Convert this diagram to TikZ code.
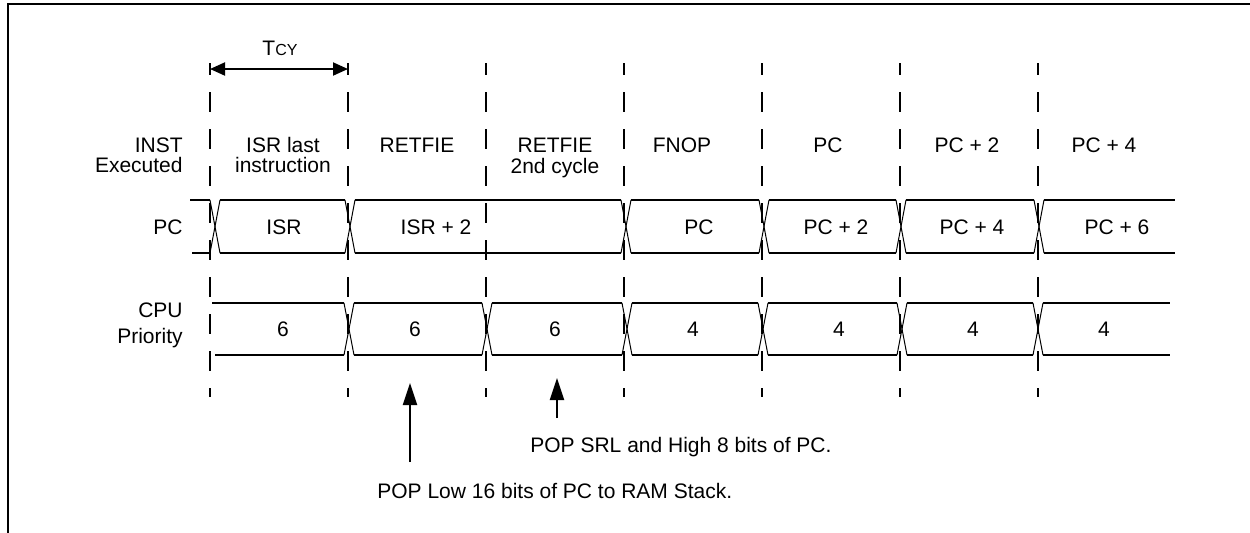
\documentclass[tikz,border=0pt]{standalone}
\usepackage{fontspec}
\setmainfont{Liberation Sans}
\usetikzlibrary{arrows.meta}
\begin{document}
\begin{tikzpicture}[x=0.5pt,y=-0.5pt,
  txt/.style={font=\fontsize{10.5}{12}\selectfont, inner sep=0pt, anchor=base},
  rlbl/.style={txt, anchor=base east},
  bus/.style={line width=1pt},
  xing/.style={line width=0.5pt},
  gridline/.style={line width=1.1pt, dash pattern=on 10pt off 8.5pt, dash phase=4pt},
  uparrow/.style={line width=1pt, -{Triangle[length=11pt,width=7pt]}},
  dimarrow/.style={line width=1pt, {Triangle[length=7.5pt,width=6.5pt]}-{Triangle[length=7.5pt,width=6.5pt]}}]
\useasboundingbox (0,0) rectangle (1250,532);
% frame
\draw[line width=1pt] (7.5,540) -- (7.5,3.5) -- (1260,3.5);
% dashed cycle boundaries
\foreach \x in {210,348,486,624,762,900,1038}
  \draw[gridline] (\x,63) -- (\x,397);
% TCY
\coordinate (tA) at (210,69);
\coordinate (tB) at (348,69);
\draw[dimarrow] (tA) -- (tB);
\node[txt] (tcy) at (280,55) {\fontsize{10.5}{12}\selectfont T\fontsize{8}{9}\selectfont CY};
% row labels
\node[rlbl] (inst1) at (183,152) {INST};
\node[rlbl] (inst2) at (183,172) {Executed};
\node[rlbl] (pcl) at (183,234) {PC};
\node[rlbl] (cpu1) at (183,317) {CPU};
\node[rlbl] (cpu2) at (183,343) {Priority};
% instruction row
\node[txt] (i1a) at (283,152) {ISR last};
\node[txt] (i1b) at (283,172) {instruction};
\node[txt] (i2) at (417,152) {RETFIE};
\node[txt] (i3a) at (555,152) {RETFIE};
\node[txt] (i3b) at (555,173) {2nd cycle};
\node[txt] (i4) at (682,152) {FNOP};
\node[txt] (i5) at (828,152) {PC};
\node[txt] (i6) at (967,152) {PC + 2};
\node[txt] (i7) at (1104,152) {PC + 4};
% PC bus
\def\pt{200}\def\pb{253}
\draw[bus] (190,\pt) -- (210,\pt);
\draw[bus] (192,\pb) -- (210,\pb);
\foreach \c in {215,350,626,764,901,1039}{
  \draw[xing] (\c-5,\pt) -- (\c+5,\pb);
  \draw[xing] (\c-5,\pb) -- (\c+5,\pt);
}
\foreach \a/\b in {220/345,355/621,631/759,769/896,906/1034,1044/1175}{
  \draw[bus] (\a,\pt) -- (\b,\pt);
  \draw[bus] (\a,\pb) -- (\b,\pb);
}
\node[txt] (p1) at (284,234) {ISR};
\node[txt] (p2) at (436,234) {ISR + 2};
\node[txt] (p3) at (699,234) {PC};
\node[txt] (p4) at (836,234) {PC + 2};
\node[txt] (p5) at (972,234) {PC + 4};
\node[txt] (p6) at (1117,234) {PC + 6};
% CPU priority bus
\def\ct{303}\def\cb{355}
\foreach \c in {349,487,627,763,902,1038}{
  \draw[xing] (\c-5,\ct) -- (\c+5,\cb);
  \draw[xing] (\c-5,\cb) -- (\c+5,\ct);
}
\draw[bus] (212,\ct) -- (344,\ct);
\draw[bus] (215,\cb) -- (344,\cb);
\foreach \a/\b in {354/482,492/622,632/758,768/897,907/1033,1043/1170}{
  \draw[bus] (\a,\ct) -- (\b,\ct);
  \draw[bus] (\a,\cb) -- (\b,\cb);
}
\node[txt] (c1) at (283,336) {6};
\node[txt] (c2) at (415,336) {6};
\node[txt] (c3) at (555,336) {6};
\node[txt] (c4) at (693,336) {4};
\node[txt] (c5) at (839,336) {4};
\node[txt] (c6) at (973,336) {4};
\node[txt] (c7) at (1104,336) {4};
% notes
\node[txt, anchor=base west] (n1) at (530,452) {POP SRL and High 8 bits of PC.};
\node[txt, anchor=base west] (n2) at (377,498) {POP Low 16 bits of PC to RAM Stack.};
\coordinate (a1s) at (410,462);
\coordinate (a1e) at (410,383);
\coordinate (a2s) at (557,418);
\coordinate (a2e) at (557,378);
\draw[uparrow] (a1s) -- (a1e);
\draw[uparrow] (a2s) -- (a2e);
\end{tikzpicture}
\end{document}
